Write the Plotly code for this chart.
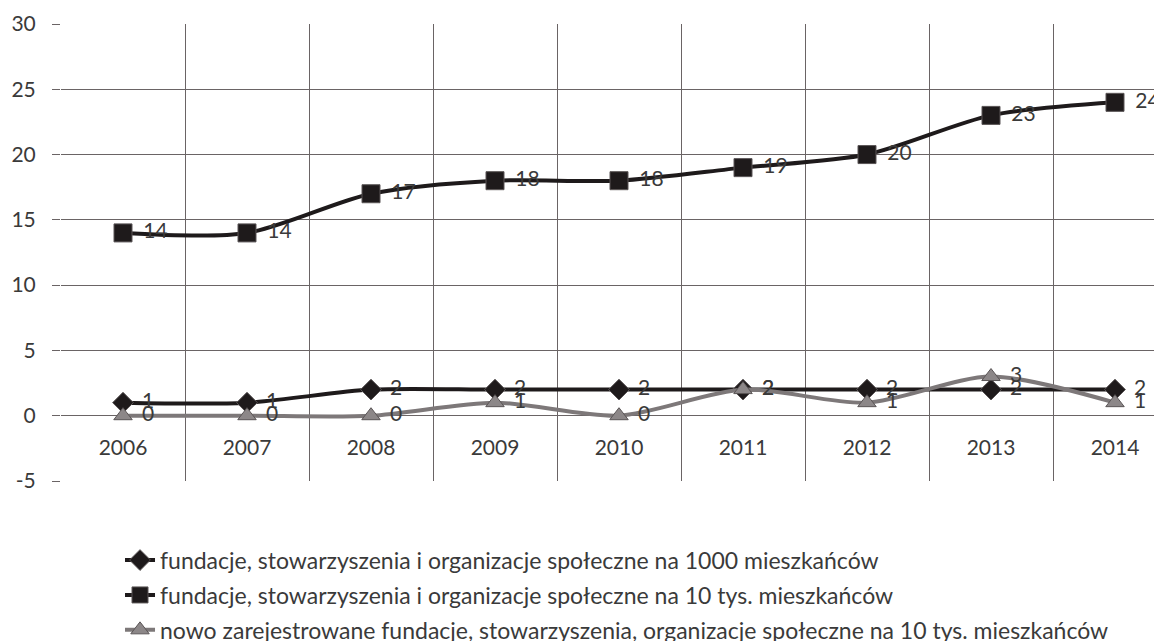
import plotly.graph_objects as go

# Data
years = ["2006", "2007", "2008", "2009", "2010", "2011", "2012", "2013", "2014"]
per_1000 = [1, 1, 2, 2, 2, 2, 2, 2, 2]
per_10k = [14, 14, 17, 18, 18, 19, 20, 23, 24]
new_per_10k = [0, 0, 0, 1, 0, 2, 1, 3, 1]
y_ticks = [-5, 0, 5, 10, 15, 20, 25, 30]

names = [
    "fundacje, stowarzyszenia i organizacje społeczne na 1000 mieszkańców",
    "fundacje, stowarzyszenia i organizacje społeczne na 10 tys. mieszkańców",
    "nowo zarejestrowane fundacje, stowarzyszenia, organizacje społeczne na 10 tys. mieszkańców",
]

xpos = list(range(len(years)))
FONT = "Lato"
txt_color = "#3a3a3a"
grid_color = "#6a6465"

fig = go.Figure()

series = [
    (per_1000, names[0], "#1e1a1b", "diamond", 16, "#1e1a1b"),
    (per_10k, names[1], "#1e1a1b", "square", 18, "#1e1a1b"),
    (new_per_10k, names[2], "#7d7879", "triangle-up", 16, "#8c8788"),
]

for i, (vals, name, lc, sym, sz, mc) in enumerate(series):
    fig.add_trace(go.Scatter(
        x=xpos, y=vals, name=name,
        mode="lines+markers+text",
        line=dict(color=lc, width=4, shape="spline", smoothing=0.8),
        marker=dict(symbol=sym, size=sz, color=mc,
                    line=dict(color="#5a5556", width=1)),
        text=[" \u2009" + str(v) for v in vals],
        textposition="middle right",
        textfont=dict(family=FONT, size=21, color=txt_color),
        cliponaxis=False,
        legendgroup=f"g{i}",
    ))

# page body has an 8px margin, so the figure is a bit smaller than the window
fig.update_layout(
    width=1154, height=633,
    margin=dict(l=53, r=0, t=16, b=160, autoexpand=False),
    plot_bgcolor="white", paper_bgcolor="white",
    font=dict(family=FONT, size=21, color=txt_color),
    showlegend=True,
    legend=dict(
        orientation="v",
        x=0.0536, xanchor="left",
        y=-0.126, yanchor="top",
        font=dict(family=FONT, size=23, color=txt_color),
        tracegroupgap=2,
        bgcolor="rgba(0,0,0,0)",
    ),
)

fig.update_yaxes(
    range=[-5, 30], tickvals=y_ticks, ticktext=[str(t) for t in y_ticks],
    showgrid=True, gridcolor=grid_color, gridwidth=1,
    zeroline=False, ticks="outside", ticklen=8, tickcolor=grid_color,
    ticklabelstandoff=12,
    tickfont=dict(family=FONT, size=21, color=txt_color),
    showline=False,
)

fig.update_xaxes(
    range=[-0.5, 8.379],
    tickvals=xpos, ticktext=years,
    showgrid=False, zeroline=False, showline=False, ticks="",
    anchor="free", position=5 / 35,
    ticklabelstandoff=17,
    tickfont=dict(family=FONT, size=21, color=txt_color),
    minor=dict(tickvals=[k - 0.5 for k in range(len(years) + 1)],
               showgrid=True, gridcolor=grid_color, gridwidth=1, ticks=""),
)

fig.write_html("out.html")
